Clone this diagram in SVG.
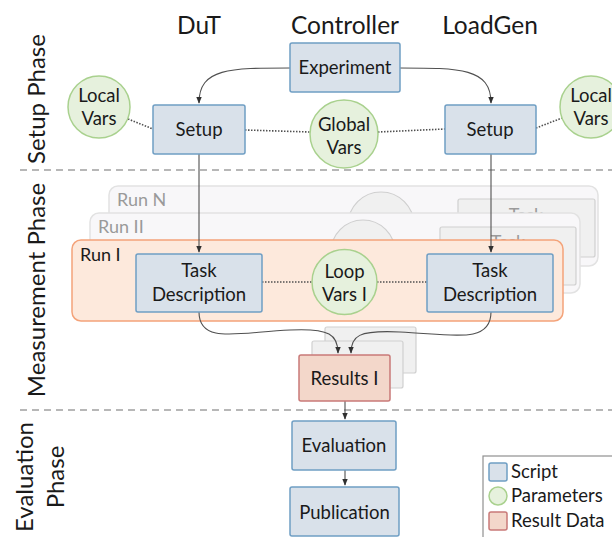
<svg xmlns="http://www.w3.org/2000/svg" width="612" height="537" viewBox="0 0 612 537">
<defs>
<style>
text{font-family:Lato,"Open Sans","DejaVu Sans",sans-serif;fill:#1a1a1a}
.hd{font-size:24.5px;text-anchor:middle}
.ph{font-size:24px;text-anchor:middle}
.lb{font-size:18.5px;text-anchor:middle}
.lg{font-size:18.5px}
.script{fill:#d9e1ea;stroke:#6f9ec4;stroke-width:1.5}
.param{fill:#e6f1dd;stroke:#a9d18e;stroke-width:1.5}
.result{fill:#f3d7ca;stroke:#c97a78;stroke-width:1.5}
.ghost{fill:#f0f0f0;stroke:#d0d0d0;stroke-width:1.2}
.panel{fill:#f8f7f9;stroke:#e2e2e2;stroke-width:1.5}
.gtext{font-size:18px;fill:#9a9a9a}
.conn{fill:none;stroke:#505050;stroke-width:1.1}
.dot{fill:none;stroke:#505050;stroke-width:1.6;stroke-dasharray:1.5 1.5}
.dash{stroke:#a0a0a0;stroke-width:1.6;stroke-dasharray:7 5}
</style>
<marker id="arr" viewBox="0 0 10 10" refX="9" refY="5" markerWidth="7" markerHeight="7" orient="auto" markerUnits="userSpaceOnUse">
<path d="M0,1 L10,5 L0,9 z" fill="#303030"/>
</marker>
</defs>
<rect width="612" height="537" fill="#ffffff"/>

<!-- Headers -->
<g id="headers">
<text class="hd" x="199" y="34">DuT</text>
<text class="hd" x="345" y="34">Controller</text>
<text class="hd" x="490" y="34">LoadGen</text>
</g>

<!-- Phase labels -->
<g id="phases">
<text class="ph" transform="translate(45,99) rotate(-90)">Setup Phase</text>
<text class="ph" transform="translate(45,290) rotate(-90)">Measurement Phase</text>
<text class="ph" transform="translate(33,477) rotate(-90)">Evaluation</text>
<text class="ph" transform="translate(64,477) rotate(-90)">Phase</text>
<line class="dash" x1="20" y1="170" x2="612" y2="170"/>
<line class="dash" x1="20" y1="410" x2="612" y2="410"/>
</g>

<!-- Run N -->
<g id="runN">
<rect class="panel" x="109" y="186" width="489" height="80" rx="9"/>
<text class="gtext" x="117" y="206">Run N</text>
<circle cx="381" cy="225" r="33" fill="#f0f0f0" stroke="#cfcfcf" stroke-width="1.2"/>
<rect class="ghost" x="458" y="199" width="137" height="58" rx="2"/>
<text class="gtext" x="526" y="221" text-anchor="middle">Task</text>
</g>
<!-- Run II -->
<g id="runII">
<rect class="panel" x="90" y="213" width="490" height="80" rx="9"/>
<text class="gtext" x="98" y="233">Run II</text>
<circle cx="363" cy="252" r="32" fill="#f0f0f0" stroke="#cfcfcf" stroke-width="1.2"/>
<rect class="ghost" x="440" y="227" width="136" height="58" rx="2"/>
<text class="gtext" x="508" y="248" text-anchor="middle">Task</text>
</g>
<!-- Run I -->
<g id="runI">
<rect x="72" y="240" width="491" height="81" rx="9" fill="#fde9dc" stroke="#f4a37a" stroke-width="1.5"/>
<text x="80" y="261" style="font-size:18px">Run I</text>
</g>

<!-- Ghost results -->
<g id="results-ghosts">
<rect class="ghost" x="325" y="327" width="91" height="46" rx="2"/>
<rect class="ghost" x="312" y="341" width="91" height="47" rx="2"/>
</g>

<!-- Connectors -->
<g id="connectors">
<path class="conn" d="M290,68 C230,68 199,68 199,103" marker-end="url(#arr)"/>
<path class="conn" d="M400,68 C460,68 491,68 491,103" marker-end="url(#arr)"/>
<line class="conn" x1="199" y1="154" x2="199" y2="252" marker-end="url(#arr)"/>
<line class="conn" x1="491" y1="154" x2="491" y2="252" marker-end="url(#arr)"/>
<path class="conn" d="M199,312 C199,345 240,332 290,330 C330,328 338,335 338,353" marker-end="url(#arr)"/>
<path class="conn" d="M491,312 C491,345 450,334 400,332 C358,330 351,336 351,353" marker-end="url(#arr)"/>
<line class="conn" x1="345" y1="401" x2="345" y2="419" marker-end="url(#arr)"/>
<line class="conn" x1="345" y1="470" x2="345" y2="485" marker-end="url(#arr)"/>
<line class="dot" x1="128" y1="119" x2="153" y2="129"/>
<line class="dot" x1="245" y1="130" x2="310" y2="132"/>
<line class="dot" x1="378" y1="132" x2="445" y2="129"/>
<line class="dot" x1="536" y1="128" x2="562" y2="118"/>
<line class="dot" x1="262" y1="282" x2="312" y2="282"/>
<line class="dot" x1="377" y1="282" x2="427" y2="282"/>
</g>

<!-- Nodes -->
<g id="experiment">
<rect class="script" x="290" y="43" width="110" height="49" rx="2"/>
<text class="lb" x="345" y="74">Experiment</text>
</g>
<g id="setup-dut">
<rect class="script" x="153" y="105" width="92" height="49" rx="2"/>
<text class="lb" x="199" y="136">Setup</text>
</g>
<g id="setup-loadgen">
<rect class="script" x="445" y="105" width="91" height="49" rx="2"/>
<text class="lb" x="490" y="136">Setup</text>
</g>
<g id="local-vars-dut">
<circle class="param" cx="99" cy="107" r="31"/>
<text class="lb" x="99" y="102">Local</text>
<text class="lb" x="99" y="125">Vars</text>
</g>
<g id="local-vars-loadgen">
<circle class="param" cx="591" cy="107" r="31"/>
<text class="lb" x="591" y="102">Local</text>
<text class="lb" x="591" y="125">Vars</text>
</g>
<g id="global-vars">
<circle class="param" cx="344" cy="134" r="34"/>
<text class="lb" x="344" y="131">Global</text>
<text class="lb" x="344" y="154">Vars</text>
</g>
<g id="task-dut">
<rect class="script" x="136" y="254" width="126" height="58" rx="2"/>
<text class="lb" x="199" y="277">Task</text>
<text class="lb" x="199" y="301">Description</text>
</g>
<g id="task-loadgen">
<rect class="script" x="427" y="254" width="126" height="58" rx="2"/>
<text class="lb" x="490" y="277">Task</text>
<text class="lb" x="490" y="301">Description</text>
</g>
<g id="loop-vars">
<circle class="param" cx="344.5" cy="282" r="32.5"/>
<text class="lb" x="344.5" y="278">Loop</text>
<text class="lb" x="344.5" y="301">Vars I</text>
</g>
<g id="results">
<rect class="result" x="299" y="355" width="91" height="46" rx="2"/>
<text class="lb" x="344.5" y="385">Results I</text>
</g>
<g id="evaluation">
<rect class="script" x="292" y="421" width="104" height="49" rx="2"/>
<text class="lb" x="344" y="452">Evaluation</text>
</g>
<g id="publication">
<rect class="script" x="290" y="487" width="109" height="49" rx="2"/>
<text class="lb" x="344.5" y="519">Publication</text>
</g>

<!-- Legend -->
<g id="legend">
<rect x="483" y="456" width="135" height="90" fill="#ffffff" stroke="#909090" stroke-width="1.2"/>
<rect class="script" x="489" y="463" width="18" height="18" rx="2"/>
<text class="lg" x="511" y="478">Script</text>
<circle class="param" cx="498" cy="496" r="9"/>
<text class="lg" x="511" y="502">Parameters</text>
<rect class="result" x="489" y="512" width="18" height="18" rx="2"/>
<text class="lg" x="511" y="527">Result Data</text>
</g>
</svg>
